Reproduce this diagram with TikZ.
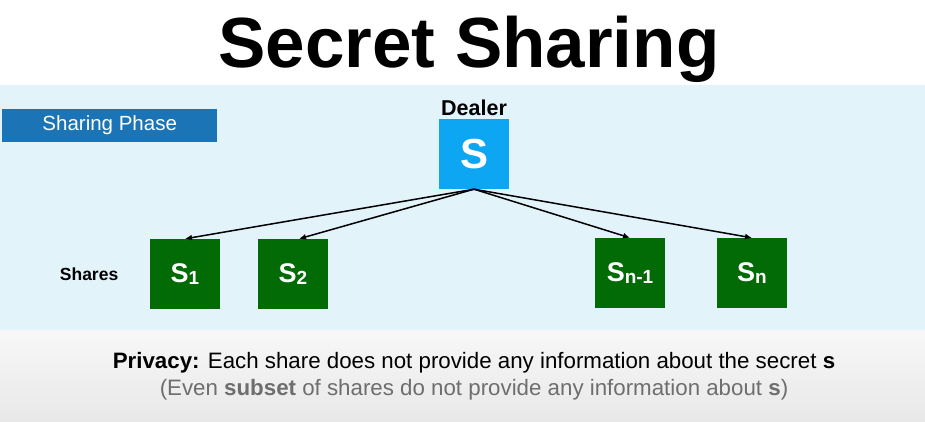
\documentclass[tikz,border=0pt]{standalone}
\usepackage{fontspec}
\setmainfont{Liberation Sans}
\usetikzlibrary{arrows, arrows.meta, positioning}
\definecolor{bandblue}{HTML}{E3F3FA}
\definecolor{phaseblue}{HTML}{1B74B6}
\definecolor{dealerblue}{HTML}{0DA6F2}
\definecolor{sharegreen}{HTML}{036B06}
\definecolor{notegrey}{HTML}{6E6E6E}
\definecolor{floorgrey}{HTML}{E8E8E8}
\newcommand{\sharelabel}[1]{S\raisebox{-2pt}{\fontsize{19}{19}\selectfont #1}}

\begin{document}
\begin{tikzpicture}[x=1pt, y=-1pt, node distance = 2mm and 10mm]
\tikzstyle{share} = [rectangle, minimum size = 70pt, inner sep = 0pt, fill = sharegreen, text = white, font = \bfseries\fontsize{27}{27}\selectfont]
\tikzstyle{connect} = [-{Latex[length=7pt, width=6pt]}, line width = 1.5pt]
\useasboundingbox (0,0) rectangle (925,422);
% backdrop
\fill[white] (0,0) rectangle (925,85);
\shade[top color = white!97!black, bottom color = floorgrey] (0,330) rectangle (925,422);
\fill[bandblue] (0,85) rectangle (925,330);
% title and phase
\node[anchor = base, font = \bfseries\fontsize{71}{71}\selectfont] (title) at (469,68) {Secret Sharing};
\node[anchor = north west, minimum width = 215pt, minimum height = 33pt, fill = phaseblue, text = white, font = \fontsize{20.5}{20.5}\selectfont] (phase) at (2,109) {Sharing Phase};
% dealer and shares
\node[rectangle, minimum size = 70pt, inner sep = 0pt, fill = dealerblue, text = white, font = \bfseries\fontsize{42}{42}\selectfont] (dealer) at (474,154) {S};
\node[anchor = base, inner sep = 0pt, font = \bfseries\fontsize{21.5}{21.5}\selectfont] (dlabel) at (474,116) {Dealer};
\node[share] (s1) at (185,274) {\sharelabel{1}};
\node[share] (s2) at (293,274) {\sharelabel{2}};
\node[share] (sn1) at (630,273) {\sharelabel{n-1}};
\node[share] (sn) at (752,273) {\sharelabel{n}};
\node[left = 28pt of s1, font = \bfseries\fontsize{17.5}{17.5}\selectfont] (shares) {Shares};
\path (dealer.south) edge [connect] (s1.north)
      (dealer.south) edge [connect] ([xshift=6pt]s2.north)
      (dealer.south) edge [connect] (sn1.north)
      (dealer.south) edge [connect] (sn.north);
% privacy note
\node[anchor = base, inner sep = 0pt, font = \fontsize{22.3}{22.3}\selectfont] (privacy) at (474,368) {\textbf{Privacy:} Each share does not provide any information about the secret \textbf{s}};
\node[anchor = base, inner sep = 0pt, text = notegrey, font = \fontsize{22.3}{22.3}\selectfont] (subset) at (474,395) {(Even \textbf{subset} of shares do not provide any information about \textbf{s})};
\end{tikzpicture}
\end{document}
